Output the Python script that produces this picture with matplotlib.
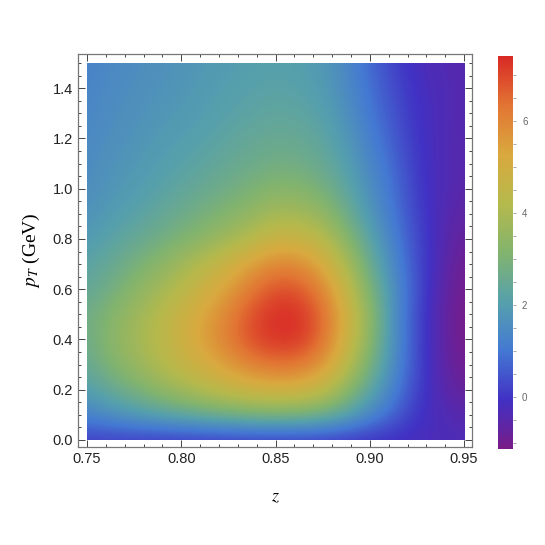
import matplotlib
matplotlib.use('Agg')
import matplotlib.pyplot as plt
from matplotlib.colors import LinearSegmentedColormap, Normalize
from matplotlib.patches import Rectangle
from matplotlib.ticker import MultipleLocator
import numpy as np

plt.rcParams['mathtext.fontset'] = 'stix'
plt.rcParams['font.family'] = 'Liberation Sans'

# grid of sampled values, z columns and pT rows (bottom to top)
z_vals = [0.75, 0.7625, 0.775, 0.7875, 0.80, 0.8125, 0.825, 0.8375, 0.85,
          0.8625, 0.875, 0.8875, 0.90, 0.9125, 0.925, 0.9375, 0.95]
pt_vals = [0.0, 0.1, 0.2, 0.3, 0.4, 0.5, 0.6, 0.7, 0.8, 0.9, 1.0, 1.1, 1.2, 1.3, 1.4, 1.5]

density = [
    [0.1, 0.1, 0.05, 0.0, 0.0, 0.0, 0.0, 0.0, 0.0, 0.0, 0.0, -0.05, -0.1, -0.15, -0.2, -0.25, -0.3],
    [1.3, 1.6, 1.9, 2.15, 2.4, 2.6, 2.8, 2.95, 3.0, 2.95, 2.7, 2.2, 1.4, 0.7, 0.0, -0.3, -0.5],
    [2.0, 2.5, 2.9, 3.4, 3.8, 4.2, 4.6, 4.85, 5.0, 4.9, 4.5, 3.4, 2.3, 1.2, 0.2, -0.45, -0.8],
    [2.5, 3.1, 3.6, 4.1, 4.6, 5.1, 5.6, 6.1, 6.4, 6.3, 5.7, 4.4, 2.9, 1.5, 0.3, -0.55, -1.0],
    [2.7, 3.3, 3.8, 4.3, 4.9, 5.5, 6.2, 6.95, 7.3, 7.25, 6.4, 4.9, 3.3, 1.6, 0.3, -0.6, -1.1],
    [2.7, 3.2, 3.7, 4.2, 4.8, 5.4, 6.1, 6.9, 7.38, 7.35, 6.5, 5.0, 3.4, 1.6, 0.3, -0.6, -1.1],
    [2.4, 2.8, 3.3, 3.8, 4.3, 4.9, 5.5, 6.3, 6.9, 6.8, 6.0, 4.6, 3.0, 1.6, 0.4, -0.55, -1.05],
    [2.2, 2.5, 2.9, 3.3, 3.8, 4.3, 4.9, 5.5, 6.0, 5.9, 5.2, 4.0, 2.6, 1.4, 0.35, -0.45, -0.95],
    [1.9, 2.2, 2.45, 2.75, 3.05, 3.4, 3.8, 4.25, 4.8, 4.75, 4.3, 3.3, 2.2, 1.2, 0.3, -0.4, -0.8],
    [1.7, 1.95, 2.15, 2.4, 2.65, 2.9, 3.2, 3.5, 3.9, 3.85, 3.5, 2.7, 1.8, 1.0, 0.2, -0.35, -0.65],
    [1.55, 1.8, 1.95, 2.15, 2.35, 2.55, 2.75, 3.0, 3.25, 3.2, 2.9, 2.3, 1.6, 0.9, 0.1, -0.3, -0.55],
    [1.5, 1.7, 1.85, 2.0, 2.15, 2.3, 2.5, 2.65, 2.8, 2.75, 2.5, 2.05, 1.4, 0.75, 0.05, -0.3, -0.5],
    [1.45, 1.6, 1.75, 1.9, 2.0, 2.15, 2.3, 2.45, 2.55, 2.5, 2.3, 1.85, 1.2, 0.6, 0.0, -0.3, -0.5],
    [1.4, 1.55, 1.65, 1.8, 1.9, 2.0, 2.15, 2.25, 2.35, 2.3, 2.1, 1.65, 1.05, 0.45, -0.05, -0.3, -0.45],
    [1.35, 1.5, 1.6, 1.7, 1.8, 1.95, 2.05, 2.15, 2.2, 2.15, 1.95, 1.5, 0.9, 0.35, -0.1, -0.3, -0.45],
    [1.3, 1.45, 1.55, 1.65, 1.75, 1.85, 1.95, 2.05, 2.1, 2.05, 1.85, 1.4, 0.8, 0.2, -0.2, -0.35, -0.45],
]

cbar_ticks = [0, 2, 4, 6]
vmin, vmax = -1.12, 7.42

rainbow = LinearSegmentedColormap.from_list(
    'mma_rainbow',
    ['#781c88', '#4131c4', '#4479d3', '#56a0ac', '#82b46e',
     '#b5b94c', '#d9a93e', '#e27533', '#d92a26'])

fig = plt.figure(figsize=(5.45, 5.45), dpi=100)
ax = fig.add_axes([78 / 545, 98 / 545, 394 / 545, 393 / 545])

dz = z_vals[1] - z_vals[0]
dp = pt_vals[1] - pt_vals[0]
im = ax.imshow(np.array(density), origin='lower', aspect='auto', cmap=rainbow,
               norm=Normalize(vmin, vmax), interpolation='bicubic',
               extent=(z_vals[0] - dz / 2, z_vals[-1] + dz / 2,
                       pt_vals[0] - dp / 2, pt_vals[-1] + dp / 2))
clip = Rectangle((z_vals[0], pt_vals[0]), z_vals[-1] - z_vals[0],
                 pt_vals[-1] - pt_vals[0], transform=ax.transData)
im.set_clip_path(clip)

ax.set_xlim(0.7452, 0.9542)
ax.set_ylim(-0.028, 1.536)

ax.xaxis.set_minor_locator(MultipleLocator(0.01))
ax.yaxis.set_minor_locator(MultipleLocator(0.05))
ax.set_xticks([0.75, 0.80, 0.85, 0.90, 0.95])
ax.set_xticklabels(['0.75', '0.80', '0.85', '0.90', '0.95'])
ax.set_yticks([0.0, 0.2, 0.4, 0.6, 0.8, 1.0, 1.2, 1.4])
ax.set_yticklabels(['0.0', '0.2', '0.4', '0.6', '0.8', '1.0', '1.2', '1.4'])
ax.tick_params(which='both', direction='in', top=True, right=True,
               color='#444444', width=0.7, labelsize=10.5, labelcolor='#222222')
ax.tick_params(which='major', length=5)
ax.tick_params(which='minor', length=2.5)
for s in ax.spines.values():
    s.set_color('#777777')
    s.set_linewidth(0.9)

ax.set_xlabel(r'$z$', fontsize=13, labelpad=16)
ax.set_ylabel(r'$p_T$ (GeV)', fontsize=14, family='Liberation Serif', labelpad=8)

cax = fig.add_axes([498 / 545, 96 / 545, 15 / 545, 393 / 545])
cb = fig.colorbar(im, cax=cax, ticks=cbar_ticks)
cb.outline.set_visible(False)
cb.ax.yaxis.set_minor_locator(MultipleLocator(0.5))
cb.ax.tick_params(which='both', direction='out', length=2.5, width=0.6,
                  color='#999999', labelsize=7, labelcolor='#666666', pad=4)

fig.savefig('out.png', dpi=100)
